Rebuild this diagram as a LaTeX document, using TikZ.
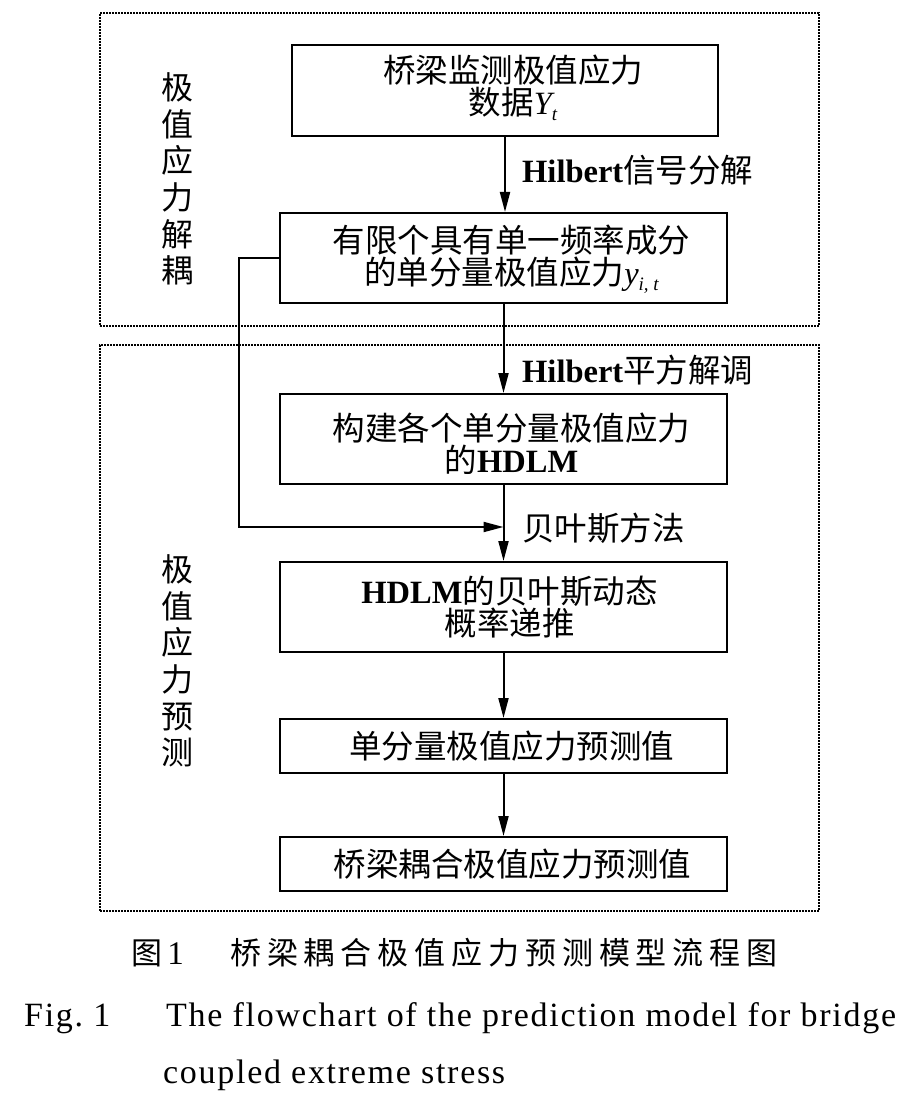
\documentclass[tikz,border=0pt]{standalone}
\usepackage{fontspec}
\setmainfont{Liberation Serif}
\newfontfamily\cjk{Noto Sans CJK SC}
\newfontfamily\cjkcap{Noto Sans CJK SC}[LetterSpace=19]
\newfontfamily\capen{Liberation Serif}[LetterSpace=5]
\usetikzlibrary{arrows.meta}
\newcommand\lat[1]{{\rmfamily\bfseries #1}}
\newcommand\ital[1]{{\rmfamily\itshape #1}}
\newcommand\subs[1]{\raisebox{-6pt}{\fontsize{19}{19}\selectfont\rmfamily\itshape #1}}
\tikzset{
  frame/.style={draw, line width=1.8pt, dash pattern=on 1.6pt off 1.4pt, minimum width=719pt, inner sep=0pt},
  box/.style={draw, line width=2pt, minimum width=447pt, inner sep=0pt},
  txt/.style={align=center, font=\fontsize{32.5}{32}\selectfont\cjk, inner sep=0pt},
  arr/.style={line width=2pt, -{Triangle[length=20pt,width=10pt]}},
  lab/.style={anchor=west, font=\fontsize{32.5}{33}\selectfont\cjk, inner sep=0pt},
  side/.style={align=center, font=\fontsize{32}{36.6}\selectfont\cjk, inner sep=0pt},
  capzh/.style={inner sep=0pt, font=\fontsize{31}{33}\selectfont},
  capen/.style={inner sep=0pt, anchor=base west, font=\fontsize{34}{36}\selectfont\capen},
}
\begin{document}
\begin{tikzpicture}[x=1pt,y=-1pt]
\useasboundingbox (0,0) rectangle (910,1115);
% outer frames
\node[frame, minimum height=313pt] (O1) at (459.5,169.5) {};
\node[frame, minimum height=566pt] (O2) at (459.5,628) {};
% side labels
\node[side] (S1) at (177,179) {极\\值\\应\\力\\解\\耦};
\node[side] (S2) at (177,661) {极\\值\\应\\力\\预\\测};
% boxes
\node[box, minimum width=426pt, minimum height=91pt] (A) at (505,90.5) {};
\node[box, minimum height=90pt] (B) at (503.5,258) {};
\node[box, minimum height=90pt] (C) at (503.5,439) {};
\node[box, minimum height=90pt] (D) at (503.5,607) {};
\node[box, minimum height=54pt] (E) at (503.5,746) {};
\node[box, minimum height=54pt] (F) at (503.5,864) {};
% box texts
\node[txt] (tA) at ([xshift=8pt,yshift=3pt]A.center) {桥梁监测极值应力\\数据\ital{Y}\subs{t}};
\node[txt] (tB) at ([xshift=8pt,yshift=-1pt]B.center) {有限个具有单一频率成分\\的单分量极值应力\ital{y}\subs{i, t}};
\node[txt] (tC) at ([xshift=8pt,yshift=-5pt]C.center) {构建各个单分量极值应力\\的\lat{HDLM}};
\node[txt] (tD) at ([xshift=6pt]D.center) {\lat{HDLM}的贝叶斯动态\\概率递推};
\node[txt] (tE) at ([xshift=8pt]E.center) {单分量极值应力预测值};
\node[txt] (tF) at ([xshift=9pt]F.center) {桥梁耦合极值应力预测值};
% arrows
\draw[arr] (A.south) -- (A.south |- B.north);
\draw[arr] (B.south) -- (C.north);
\draw[arr] (C.south) -- (D.north);
\draw[arr] (D.south) -- (E.north);
\draw[arr] (E.south) -- (F.north);
% feedback
\coordinate (fb1) at (239,258);
\coordinate (fb2) at (239,527);
\coordinate (fbe) at (503.5,527);
\draw[arr] (B.west) -- (fb1) -- (fb2) -- (fbe);
% edge labels
\node[lab] (L1) at (522,170) {\lat{Hilbert}信号分解};
\node[lab] (L2) at (522,370) {\lat{Hilbert}平方解调};
\node[lab] (L3) at (522,528) {贝叶斯方法};
% captions
\node[capzh, anchor=west] (c1a) at (131,953) {{\cjk 图}\,\fontsize{33}{33}\selectfont 1};
\node[capzh, anchor=west] (c1b) at (230,953) {\cjkcap 桥梁耦合极值应力预测模型流程图};
\node[capen] (c2a) at (24,1026) {Fig.\ 1};
\node[capen] (c2b) at (166,1026) {The flowchart of the prediction model for bridge};
\node[capen] (c3) at (163,1083) {coupled extreme stress};
\end{tikzpicture}
\end{document}
